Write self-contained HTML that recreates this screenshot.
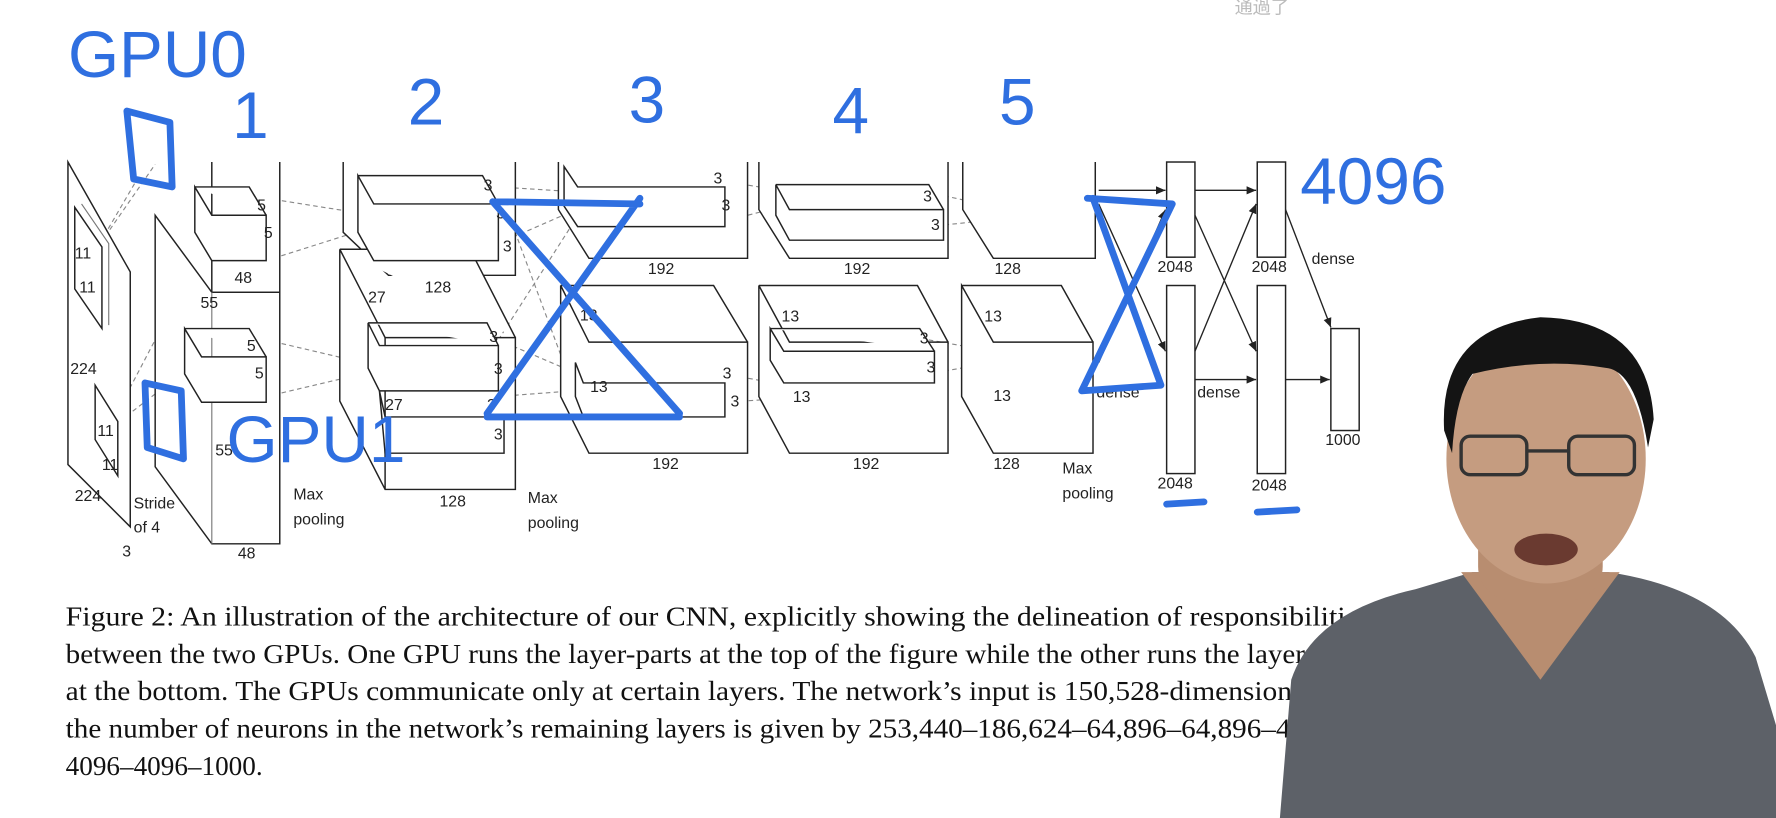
<!DOCTYPE html>
<html><head><meta charset="utf-8"><style>
html,body{margin:0;padding:0;background:#fff;width:1776px;height:818px;overflow:hidden}
svg{display:block}
.b{fill:#fff;stroke:#222;stroke-width:1.3}
.k{fill:none;stroke:#777;stroke-width:1}
.d{fill:none;stroke:#888;stroke-width:1;stroke-dasharray:4 3}
.t{font-family:"Liberation Sans",sans-serif;font-size:14px;fill:#222}
.c{font-family:"Liberation Serif",serif;font-size:24px;fill:#111}
.h{font-family:"Liberation Sans",sans-serif;font-size:58px;fill:#2f6fe0}
.bl{fill:none;stroke:#2f6fe0;stroke-width:6;stroke-linecap:round;stroke-linejoin:round}
.a{stroke:#222;stroke-width:1.2;fill:none;marker-end:url(#ar)}
</style></head><body>
<svg width="1776" height="818" viewBox="0 0 1568 722" preserveAspectRatio="none">
<defs><marker id="ar" markerWidth="8" markerHeight="8" refX="7" refY="4" orient="auto"><path d="M0,1 L7,4 L0,7z" fill="#222"/></marker></defs>
<rect width="1568" height="722" fill="#fff"/>
<text x="1090" y="12" font-family="Noto Sans CJK SC,sans-serif" font-size="16" fill="#bbb">通過了</text>

<g class="d">
<path d="M85,220 L137,145 M85,220 L120,160 M95,380 L137,300 M95,380 L160,330"/>
<path d="M235,175 L330,190 M235,230 L330,200 M235,300 L320,320 M235,350 L320,330"/>
<path d="M440,165 L520,170 M440,215 L520,180 M440,300 L510,330 M440,350 L505,345 M440,165 L505,340 M440,300 L520,175"/>
<path d="M640,160 L700,170 M640,195 L700,180 M640,330 L720,345 M640,355 L720,350"/>
<path d="M820,170 L915,190 M820,200 L915,190 M820,300 L905,315 M820,330 L905,315"/>
</g>

<path class="b" d="M60,143 L115,240 L115,465 L60,410 Z"/>
<path class="b" d="M66,183 L90,218 L90,290 L66,255 Z"/>
<path class="k" d="M72,180 L96,215 L96,287"/>
<path class="b" d="M84,340 L104,372 L104,420 L84,388 Z"/>
<text class="t" x="66" y="228">11</text><text class="t" x="70" y="258">11</text>
<text class="t" x="62" y="330">224</text><text class="t" x="66" y="442">224</text>
<text class="t" x="86" y="385">11</text><text class="t" x="90" y="415">11</text>
<text class="t" x="118" y="449" font-size="16">Stride</text><text class="t" x="118" y="470" font-size="16">of 4</text>
<text class="t" x="108" y="491">3</text>

<path class="b" d="M187,143 L187,258 L247,258 L247,143"/>
<path class="b" d="M137,190 L187,258 L247,258 L247,480 L187,480 L137,412 Z"/>
<path class="k" d="M187,258 L187,480"/>
<path class="b" d="M172,165 L187,190 L235,190 L235,230 L187,230 L172,205 Z M172,165 L220,165 L235,190"/>
<path class="b" d="M163,290 L178,315 L235,315 L235,355 L178,355 L163,330 Z M163,290 L220,290 L235,315"/>
<text class="t" x="227" y="186">5</text><text class="t" x="233" y="210">5</text>
<text class="t" x="218" y="310">5</text><text class="t" x="225" y="334">5</text>
<text class="t" x="207" y="250">48</text><text class="t" x="177" y="272">55</text>
<text class="t" x="190" y="402">55</text><text class="t" x="210" y="493">48</text>

<path class="b" d="M303,143 L303,205 L343,243 L455,243 L455,143"/>
<path class="b" d="M300,220 L340,298 L455,298 L455,432 L340,432 L300,354 Z M300,220 L415,220 L455,298 M340,298 L340,432"/>
<path class="b" d="M316,155 L330,180 L440,180 L440,230 L330,230 L316,205 Z M316,155 L426,155 L440,180"/>
<path class="b" d="M325,285 L335,305 L440,305 L440,345 L335,345 L325,325 Z M325,285 L430,285 L440,305"/>
<path class="b" d="M335,345 L340,368 L445,368 L445,400 L340,400 Z"/>
<text class="t" x="427" y="168">3</text><text class="t" x="438" y="193">3</text><text class="t" x="444" y="222">3</text>
<text class="t" x="432" y="302">3</text><text class="t" x="436" y="330">3</text><text class="t" x="430" y="362">3</text><text class="t" x="436" y="388">3</text>
<text class="t" x="375" y="258">128</text><text class="t" x="325" y="267">27</text><text class="t" x="340" y="362">27</text>
<text class="t" x="388" y="447">128</text>
<text class="t" x="259" y="441" font-size="16">Max</text><text class="t" x="259" y="463" font-size="16">pooling</text>
<text class="t" x="466" y="444" font-size="16">Max</text><text class="t" x="466" y="466" font-size="16">pooling</text>

<path class="b" d="M493,143 L493,185 L520,228 L660,228 L660,143"/>
<path class="b" d="M498,147 L510,165 L640,165 L640,200 L510,200 L498,182 Z"/>
<path class="b" d="M495,252 L520,302 L660,302 L660,400 L520,400 L495,350 Z M495,252 L630,252 L660,302"/>
<path class="b" d="M508,320 L515,338 L640,338 L640,368 L515,368 L508,350 Z"/>
<text class="t" x="630" y="162">3</text><text class="t" x="637" y="186">3</text>
<text class="t" x="572" y="242">192</text><text class="t" x="512" y="283">13</text>
<text class="t" x="521" y="346">13</text><text class="t" x="638" y="334">3</text><text class="t" x="645" y="359">3</text>
<text class="t" x="576" y="414">192</text>

<path class="b" d="M670,143 L670,185 L697,228 L837,228 L837,143"/>
<path class="b" d="M685,163 L697,185 L833,185 L833,212 L697,212 L685,190 Z M685,163 L820,163 L833,185"/>
<path class="b" d="M670,252 L697,302 L837,302 L837,400 L697,400 L670,350 Z M670,252 L810,252 L837,302"/>
<path class="b" d="M680,290 L692,310 L825,310 L825,338 L692,338 L680,318 Z M680,290 L812,290 L825,310"/>
<text class="t" x="815" y="178">3</text><text class="t" x="822" y="203">3</text>
<text class="t" x="745" y="242">192</text><text class="t" x="690" y="284">13</text>
<text class="t" x="700" y="355">13</text><text class="t" x="812" y="303">3</text><text class="t" x="818" y="329">3</text>
<text class="t" x="753" y="414">192</text>

<path class="b" d="M850,143 L850,185 L877,228 L967,228 L967,143"/>
<path class="b" d="M849,252 L877,302 L965,302 L965,400 L877,400 L849,350 Z M849,252 L937,252 L965,302"/>
<text class="t" x="878" y="242">128</text><text class="t" x="869" y="284">13</text><text class="t" x="877" y="354">13</text>
<text class="t" x="877" y="414">128</text>
<text class="t" x="938" y="418" font-size="16">Max</text><text class="t" x="938" y="440" font-size="16">pooling</text>

<rect class="b" x="1030" y="143" width="25" height="84"/>
<rect class="b" x="1030" y="252" width="25" height="166"/>
<rect class="b" x="1110" y="143" width="25" height="84"/>
<rect class="b" x="1110" y="252" width="25" height="166"/>
<rect class="b" x="1175" y="290" width="25" height="90"/>
<line class="a" x1="970" y1="168" x2="1029" y2="168"/>
<line class="a" x1="970" y1="180" x2="1029" y2="310"/>
<line class="a" x1="970" y1="320" x2="1029" y2="185"/>
<line class="a" x1="1055" y1="168" x2="1109" y2="168"/>
<line class="a" x1="1055" y1="190" x2="1109" y2="310"/>
<line class="a" x1="1055" y1="310" x2="1109" y2="180"/>
<line class="a" x1="1055" y1="335" x2="1109" y2="335"/>
<line class="a" x1="1135" y1="335" x2="1174" y2="335"/>
<line class="a" x1="1135" y1="185" x2="1175" y2="289"/>
<text class="t" x="1022" y="240">2048</text><text class="t" x="1105" y="240">2048</text>
<text class="t" x="1022" y="431">2048</text><text class="t" x="1105" y="433">2048</text>
<text class="t" x="1170" y="393">1000</text>
<text class="t" x="1158" y="233" font-size="16">dense</text>
<text class="t" x="968" y="351" font-size="16">dense</text><text class="t" x="1057" y="351" font-size="16">dense</text>

<text class="h" x="60" y="68">GPU0</text>
<text class="h" x="205" y="122">1</text><text class="h" x="360" y="110">2</text>
<text class="h" x="555" y="108">3</text><text class="h" x="735" y="118">4</text>
<text class="h" x="882" y="110">5</text>
<text class="h" x="1148" y="180" font-size="50">4096</text>
<text class="h" x="200" y="408">GPU1</text>
<path class="bl" d="M112,98 L150,108 L152,165 L118,158 Z"/>
<path class="bl" d="M128,338 L160,345 L162,405 L130,395 Z"/>
<path class="bl" d="M435,178 L565,180 M565,175 L430,365 M435,178 L600,365 M430,368 L600,368"/>
<path class="bl" d="M960,175 L1035,180 L955,345 L1025,340 L965,175"/>
<path class="bl" d="M1030,445 L1063,443 M1110,452 L1145,450"/>

<text class="c" x="58" y="552" textLength="1152" lengthAdjust="spacingAndGlyphs">Figure 2: An illustration of the architecture of our CNN, explicitly showing the delineation of responsibilities</text>
<text class="c" x="58" y="585" textLength="1152" lengthAdjust="spacingAndGlyphs">between the two GPUs. One GPU runs the layer-parts at the top of the figure while the other runs the layer-parts</text>
<text class="c" x="58" y="618" textLength="1152" lengthAdjust="spacingAndGlyphs">at the bottom. The GPUs communicate only at certain layers. The network’s input is 150,528-dimensional, and</text>
<text class="c" x="58" y="651" textLength="1152" lengthAdjust="spacingAndGlyphs">the number of neurons in the network’s remaining layers is given by 253,440–186,624–64,896–64,896–43,264–</text>
<text class="c" x="58" y="684">4096–4096–1000.</text>

<path d="M1130,722 L1140,600 Q1160,540 1250,520 L1300,505 L1420,505 Q1520,520 1550,580 L1568,640 L1568,722 Z" fill="#5d6168"/>
<path d="M1290,505 L1360,600 L1430,505 Z" fill="#b88d70"/>
<rect x="1305" y="440" width="110" height="90" rx="30" fill="#b88d70"/>
<ellipse cx="1365" cy="405" rx="88" ry="110" fill="#c59c80"/>
<path d="M1275,380 Q1270,290 1360,280 Q1455,282 1460,370 L1455,395 Q1445,330 1420,325 Q1360,315 1300,330 Q1285,350 1282,400 Z" fill="#141414"/>
<rect x="1290" y="385" width="58" height="34" rx="8" fill="none" stroke="#333" stroke-width="3"/>
<rect x="1385" y="385" width="58" height="34" rx="8" fill="none" stroke="#333" stroke-width="3"/>
<line x1="1348" y1="398" x2="1385" y2="398" stroke="#333" stroke-width="3"/>
<ellipse cx="1365" cy="485" rx="28" ry="14" fill="#6a3a30"/>
</svg>
</body></html>
